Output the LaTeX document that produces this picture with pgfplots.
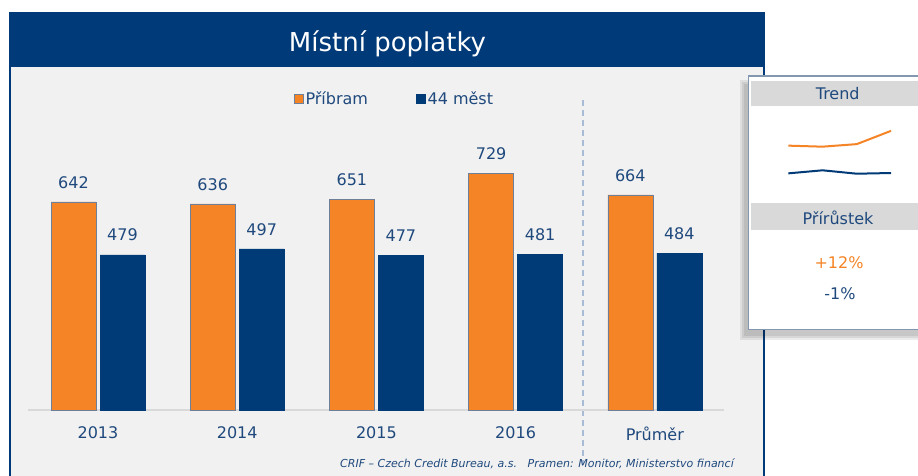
\documentclass[border=0pt]{standalone}
\usepackage{fontspec}
\setmainfont{DejaVu Sans}
\usepackage{pgfplots}
\pgfplotsset{compat=1.18}

\definecolor{navy}{HTML}{003A78}
\definecolor{barblue}{HTML}{003B78}
\definecolor{orangec}{HTML}{F58426}
\definecolor{orangeedge}{HTML}{6D7F99}
\definecolor{textblue}{HTML}{1F497D}
\definecolor{framebg}{HTML}{F1F1F1}
\definecolor{linegray}{HTML}{D9D9D9}
\definecolor{bandgray}{HTML}{D9D9D9}
\definecolor{dashcol}{HTML}{A9BCD6}
\definecolor{panelborder}{HTML}{8497B0}

\newcommand{\fs}[1]{\fontsize{#1}{#1}\selectfont}

\begin{document}
\begin{tikzpicture}[x=1pt,y=1pt]
\path[use as bounding box] (0,0) rectangle (918,476);
\clip (0,0) rectangle (918,476);
\fill[white] (0,0) rectangle (918,476);

% main frame and title bar
\fill[framebg] (10,-10) rectangle (764,463);
\fill[navy] (10,409) rectangle (764,463);
\draw[navy, line width=2.5] (10,-10) rectangle (764,463);
\node[anchor=base, white, font=\fs{26}, inner sep=0] at (387.5,424.3) {Místní poplatky};

% separator before the average
\draw[dashcol, dash pattern=on 6pt off 4pt, line width=1.5] (583,376) -- (583,11);

% footer
\node[anchor=base west, inner sep=0, text=textblue, font=\fs{11}\itshape] at (340,8.7) {CRIF – Czech Credit Bureau, a.s.};
\node[anchor=base east, inner sep=0, text=textblue, font=\fs{11}\itshape] at (734,8.7) {Pramen: Monitor, Ministerstvo financí};

\begin{axis}[
    at={(28.4pt,66pt)}, anchor=south west,
    scale only axis, width=696pt, height=324pt,
    xmin=-0.5, xmax=4.5, ymin=0, ymax=1000,
    clip=false,
    ybar=4pt, bar width=45pt,
    axis y line=none,
    axis x line*=bottom,
    x axis line style={-, draw=linegray, line width=2.5pt},
    xtick={0,1,2,3,4},
    xticklabels={2013,2014,2015,2016,Průměr},
    major tick length=0pt,
    /pgf/number format/assume math mode=true,
    xticklabel style={font=\fs{16}, text=textblue, yshift=-13pt},
    nodes near coords,
    nodes near coords style={font=\fs{16}, text=textblue, yshift=10pt},
    legend image code/.code={\path[#1] (0pt,-4.5pt) rectangle (9pt,4.5pt);},
    legend style={at={(0.526,0.961)}, anchor=center, draw=none, fill=none,
        legend columns=2, font=\fs{16}, text=textblue,
        /tikz/every even column/.append style={column sep=46pt}},
]
\addplot[fill=orangec, draw=orangeedge, line width=0.6pt]
    coordinates {(0,642) (1,636) (2,651) (3,729) (4,664)};
\addlegendentry{Příbram}
\addplot[fill=barblue, draw=barblue, line width=0.6pt]
    coordinates {(0,479) (1,497) (2,477) (3,481) (4,484)};
\addlegendentry{44 měst}
\end{axis}

% side panel with soft shadow
\foreach \d in {0,2,4} {
  \fill[black, opacity=0.08] (740+\d,136+\d) rectangle (930,396-\d);
}
\fill[white] (748.3,146.7) rectangle (930,400);
\draw[panelborder, line width=1.2] (748.3,146.7) rectangle (930,400);
\fill[bandgray] (751,370.3) rectangle (930,395);
\fill[bandgray] (751,246) rectangle (930,272.7);
\node[anchor=base, inner sep=0, text=textblue, font=\fs{16}] at (837.7,376) {Trend};
\node[anchor=base, inner sep=0, text=textblue, font=\fs{16}] at (838,251) {Přírůstek};
\node[anchor=base, inner sep=0, text=orangec, font=\fs{16}] at (839,207.7) {+12\%};
\node[anchor=base, inner sep=0, text=textblue, font=\fs{16}] at (840,176.7) {-1\%};

% sparklines
\begin{axis}[
    at={(788.3pt,299.4pt)}, anchor=south west,
    scale only axis, width=102.7pt, height=47.6pt,
    xmin=0, xmax=3, ymin=460, ymax=740,
    hide axis, clip=false,
]
\addplot[orangec, line width=2pt] coordinates {(0,642) (1,636) (2,651) (3,729)};
\addplot[barblue, line width=2pt] coordinates {(0,479) (1,497) (2,477) (3,481)};
\end{axis}
\end{tikzpicture}
\end{document}
